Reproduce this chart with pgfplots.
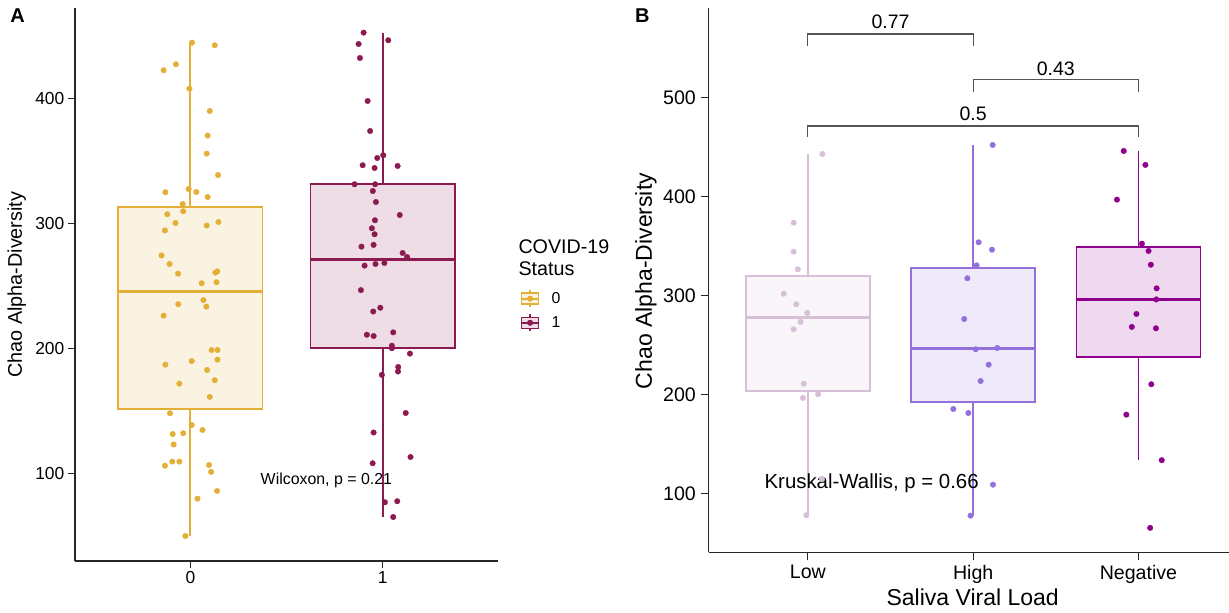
\documentclass[border=0pt]{standalone}
\usepackage{fontspec}
\setmainfont{Liberation Sans}
\usepackage{pgfplots}
\pgfplotsset{compat=1.18}
\definecolor{goldc}{HTML}{E3AF37}
\definecolor{maroonc}{HTML}{8B1A50}
\definecolor{thistlec}{HTML}{D8BFD8}
\definecolor{mpurple}{HTML}{9370DB}
\definecolor{dmag}{HTML}{8F008F}
\definecolor{brk}{HTML}{555555}
\newcommand\fs[1]{\fontsize{#1pt}{#1pt}\selectfont}

% box: colour, position, lower whisker, Q1, median, Q3, upper whisker
\newcommand\ggbox[7]{%
  \addplot[forget plot, no marks, draw=#1, line width=1.8pt] coordinates {(#2,#3) (#2,#4)};
  \addplot[forget plot, no marks, draw=#1, line width=1.8pt] coordinates {(#2,#6) (#2,#7)};
  \addplot[forget plot, no marks, draw=#1, fill=#1!15, line width=1.8pt]
    coordinates {(#2-0.375,#4) (#2+0.375,#4) (#2+0.375,#6) (#2-0.375,#6)} -- cycle;
  \addplot[forget plot, no marks, draw=#1, line width=3.4pt] coordinates {(#2-0.375,#5) (#2+0.375,#5)};
}
\pgfplotsset{
  ggpts/.style={forget plot, only marks, mark=*, mark size=2.8pt, color=#1,
    mark options={solid, fill=#1, draw=#1, line width=0.3pt}},
  ggaxis/.style={scale only axis, anchor=south west,
    axis lines=left, axis line style={-, line width=1.2pt, black!85},
    tick align=outside, every tick/.style={black!85, line width=1.2pt},
    /pgf/number format/assume math mode=true,
    yticklabel style={anchor=east, inner sep=0pt, text=black},
    xticklabel style={anchor=north, inner sep=0pt, text=black},
    clip=false},
}

\begin{document}
\begin{tikzpicture}
\useasboundingbox (0pt,0pt) rectangle (1229pt,613pt);

% ---------------- Panel A ----------------
\begin{axis}[ggaxis,
  at={(75pt,52pt)}, width=423pt, height=553pt,
  xmin=-0.6, xmax=1.6, ymin=29.8, ymax=472.2,
  xtick={0,1}, xticklabels={0,1}, ytick={100,200,300,400},
  major tick length=6.5pt,
  yticklabel shift=4pt, xticklabel shift=3.5pt,
  tick label style={font=\fs{17.4}},
  legend style={at={(axis description cs:1.0532,0.4910)}, anchor=north west,
    draw=none, fill=none, inner sep=0pt, outer sep=0pt, row sep=5.7pt,
    column sep=12pt, font=\fs{15.8}, nodes={inner sep=0pt}},
  legend cell align=left,
]
\ggbox{goldc}{0}{49.8}{151.4}{245.3}{313.3}{444.8}
\ggbox{maroonc}{1}{65.3}{200.5}{271.2}{331.2}{452.0}
\addplot[ggpts=goldc] coordinates {
(0.009,444.5) (0.127,442.4) (-0.139,422.4) (-0.075,427.2) (-0.005,407.7) (0.101,389.8)
(0.090,370.1) (0.085,355.7) (0.144,338.6) (-0.130,324.8) (-0.009,327.4) (0.031,325.0)
(0.090,321.0) (-0.040,315.4) (-0.120,307.2) (-0.037,309.6) (-0.077,300.2) (0.146,301.0)
(-0.132,294.2) (0.085,298.2) (-0.150,274.2) (-0.108,267.4) (-0.064,259.7) (0.130,260.5)
(0.140,261.5) (0.059,252.0) (0.136,252.8) (0.068,238.5) (-0.063,235.2) (0.083,233.3)
(-0.139,226.1) (0.110,198.6) (0.141,198.6) (0.007,189.8) (0.141,190.9) (-0.130,186.9)
(0.087,182.6) (0.127,174.4) (-0.057,171.7) (0.101,161.1) (-0.106,148.0) (0.007,138.6)
(-0.037,132.0) (-0.092,131.4) (0.063,134.6) (-0.087,123.0) (-0.132,106.0) (-0.094,109.3)
(-0.057,109.3) (0.097,106.6) (0.108,101.1) (0.139,85.8) (0.037,79.7) (-0.026,49.8)
};
\addplot[ggpts=maroonc] coordinates {
(0.901,452.5) (1.029,446.4) (0.875,443.4) (0.882,432.2) (0.922,397.8) (0.935,373.8)
(1.003,354.4) (0.972,352.2) (0.896,346.4) (0.958,344.2) (1.078,345.8) (0.854,331.2)
(0.961,331.2) (0.949,325.8) (0.965,317.0) (1.089,306.6) (0.960,302.4) (0.944,296.0)
(0.958,291.2) (0.890,281.3) (0.953,282.7) (1.104,276.2) (1.127,273.0) (0.906,266.1)
(0.963,267.4) (1.009,268.2) (0.887,246.5) (0.951,229.4) (0.988,232.4) (0.918,210.8)
(0.953,209.8) (1.055,212.7) (1.048,202.0) (1.048,200.0) (1.142,195.7) (1.081,185.0)
(1.080,181.4) (0.996,178.7) (1.120,148.2) (0.953,132.6) (1.145,113.0) (0.948,108.0)
(1.012,76.8) (1.076,77.6) (1.055,65.0)
};
\addlegendimage{legend image code/.code={
  \draw[goldc, line width=1.4pt] (0pt,-8.5pt) -- (0pt,8.5pt);
  \draw[goldc, fill=goldc!15, line width=1.4pt] (-8.5pt,-5.5pt) rectangle (8.5pt,5.5pt);
  \draw[goldc, line width=2.2pt] (-8.5pt,0pt) -- (8.5pt,0pt);
  \fill[goldc] (0pt,0pt) circle (2.8pt);}}
\addlegendentry{0}
\addlegendimage{legend image code/.code={
  \draw[maroonc, line width=1.4pt] (0pt,-8.5pt) -- (0pt,8.5pt);
  \draw[maroonc, fill=maroonc!15, line width=1.4pt] (-8.5pt,-5.5pt) rectangle (8.5pt,5.5pt);
  \draw[maroonc, line width=2.2pt] (-8.5pt,0pt) -- (8.5pt,0pt);
  \fill[maroonc] (0pt,0pt) circle (2.8pt);}}
\addlegendentry{1}
\node[anchor=west, inner sep=0pt, font=\fs{15.9}] at (axis cs:0.365,94) {Wilcoxon, p = 0.21};
\end{axis}

% ---------------- Panel B ----------------
\begin{axis}[ggaxis,
  at={(708.7pt,60.7pt)}, width=520.3pt, height=544.3pt,
  xmin=-0.6, xmax=2.548, ymin=40.3, ymax=590.7,
  xtick={0,1,2}, xticklabels={Low,High,Negative}, ytick={100,200,300,400,500},
  major tick length=8pt,
  yticklabel shift=4.7pt, xticklabel shift=4.4pt,
  tick label style={font=\fs{19.6}},
]
\ggbox{thistlec}{0}{77.8}{203.4}{277.6}{320.0}{442.8}
\ggbox{mpurple}{1}{77.4}{192.3}{246.6}{327.5}{452.2}
\ggbox{dmag}{2}{133.7}{238.0}{296.0}{348.7}{446.1}
\addplot[ggpts=thistlec] coordinates {
(0.088,443.1) (-0.086,373.6) (-0.086,344.3) (-0.061,326.5) (-0.146,301.8) (-0.070,291.1)
(-0.004,282.3) (-0.044,273.2) (-0.086,265.8) (-0.025,210.8) (-0.030,196.4) (0.062,200.1)
(0.085,114.5) (-0.009,77.8)
};
\addplot[ggpts=mpurple] coordinates {
(1.118,452.2) (1.033,353.8) (1.114,346.3) (1.021,330.5) (0.965,317.4) (0.946,276.2)
(1.015,245.6) (1.146,246.9) (1.094,230.0) (1.045,213.5) (0.880,185.2) (0.971,181.2)
(1.120,108.7) (0.984,77.4)
};
\addplot[ggpts=dmag] coordinates {
(1.911,446.1) (2.042,432.0) (1.870,396.9) (2.021,352.4) (2.061,345.0) (2.075,331.1)
(2.110,307.2) (2.108,296.0) (1.988,281.3) (1.960,268.2) (2.106,266.8) (2.078,210.2)
(1.927,179.5) (2.141,133.4) (2.071,65.0)
};
% significance brackets
\addplot[forget plot, brk, line width=1.1pt, no marks] coordinates {(0,552.5) (0,564.4) (1,564.4) (1,552.5)};
\addplot[forget plot, brk, line width=1.1pt, no marks] coordinates {(1,506.0) (1,518.2) (2,518.2) (2,506.0)};
\addplot[forget plot, brk, line width=1.1pt, no marks] coordinates {(0,460.3) (0,471.4) (2,471.4) (2,460.3)};
\node[inner sep=0pt, font=\fs{19.5}] at (axis cs:0.5,576.8) {0.77};
\node[inner sep=0pt, font=\fs{19.5}] at (axis cs:1.5,529.7) {0.43};
\node[inner sep=0pt, font=\fs{19.5}] at (axis cs:1,483.5) {0.5};
\node[anchor=west, inner sep=0pt, font=\fs{20.4}] at (axis cs:-0.263,110.4) {Kruskal-Wallis, p = 0.66};
\end{axis}

% ---------------- titles ----------------
\node[font=\bfseries\fs{20}, inner sep=0pt] at (17.5pt,597pt) {A};
\node[font=\bfseries\fs{20}, inner sep=0pt] at (642.4pt,597.2pt) {B};
\node[rotate=90, font=\fs{19.8}, inner sep=0pt] at (16.7pt,328.3pt) {Chao Alpha-Diversity};
\node[rotate=90, font=\fs{23}, inner sep=0pt] at (646pt,332pt) {Chao Alpha-Diversity};
\node[font=\fs{23}, inner sep=0pt] at (972.7pt,15.7pt) {Saliva Viral Load};
\node[anchor=west, font=\fs{19.7}, inner sep=0pt] at (518.3pt,366.3pt) {COVID-19};
\node[anchor=west, font=\fs{19.7}, inner sep=0pt] at (518.3pt,344.7pt) {Status};
\end{tikzpicture}
\end{document}
